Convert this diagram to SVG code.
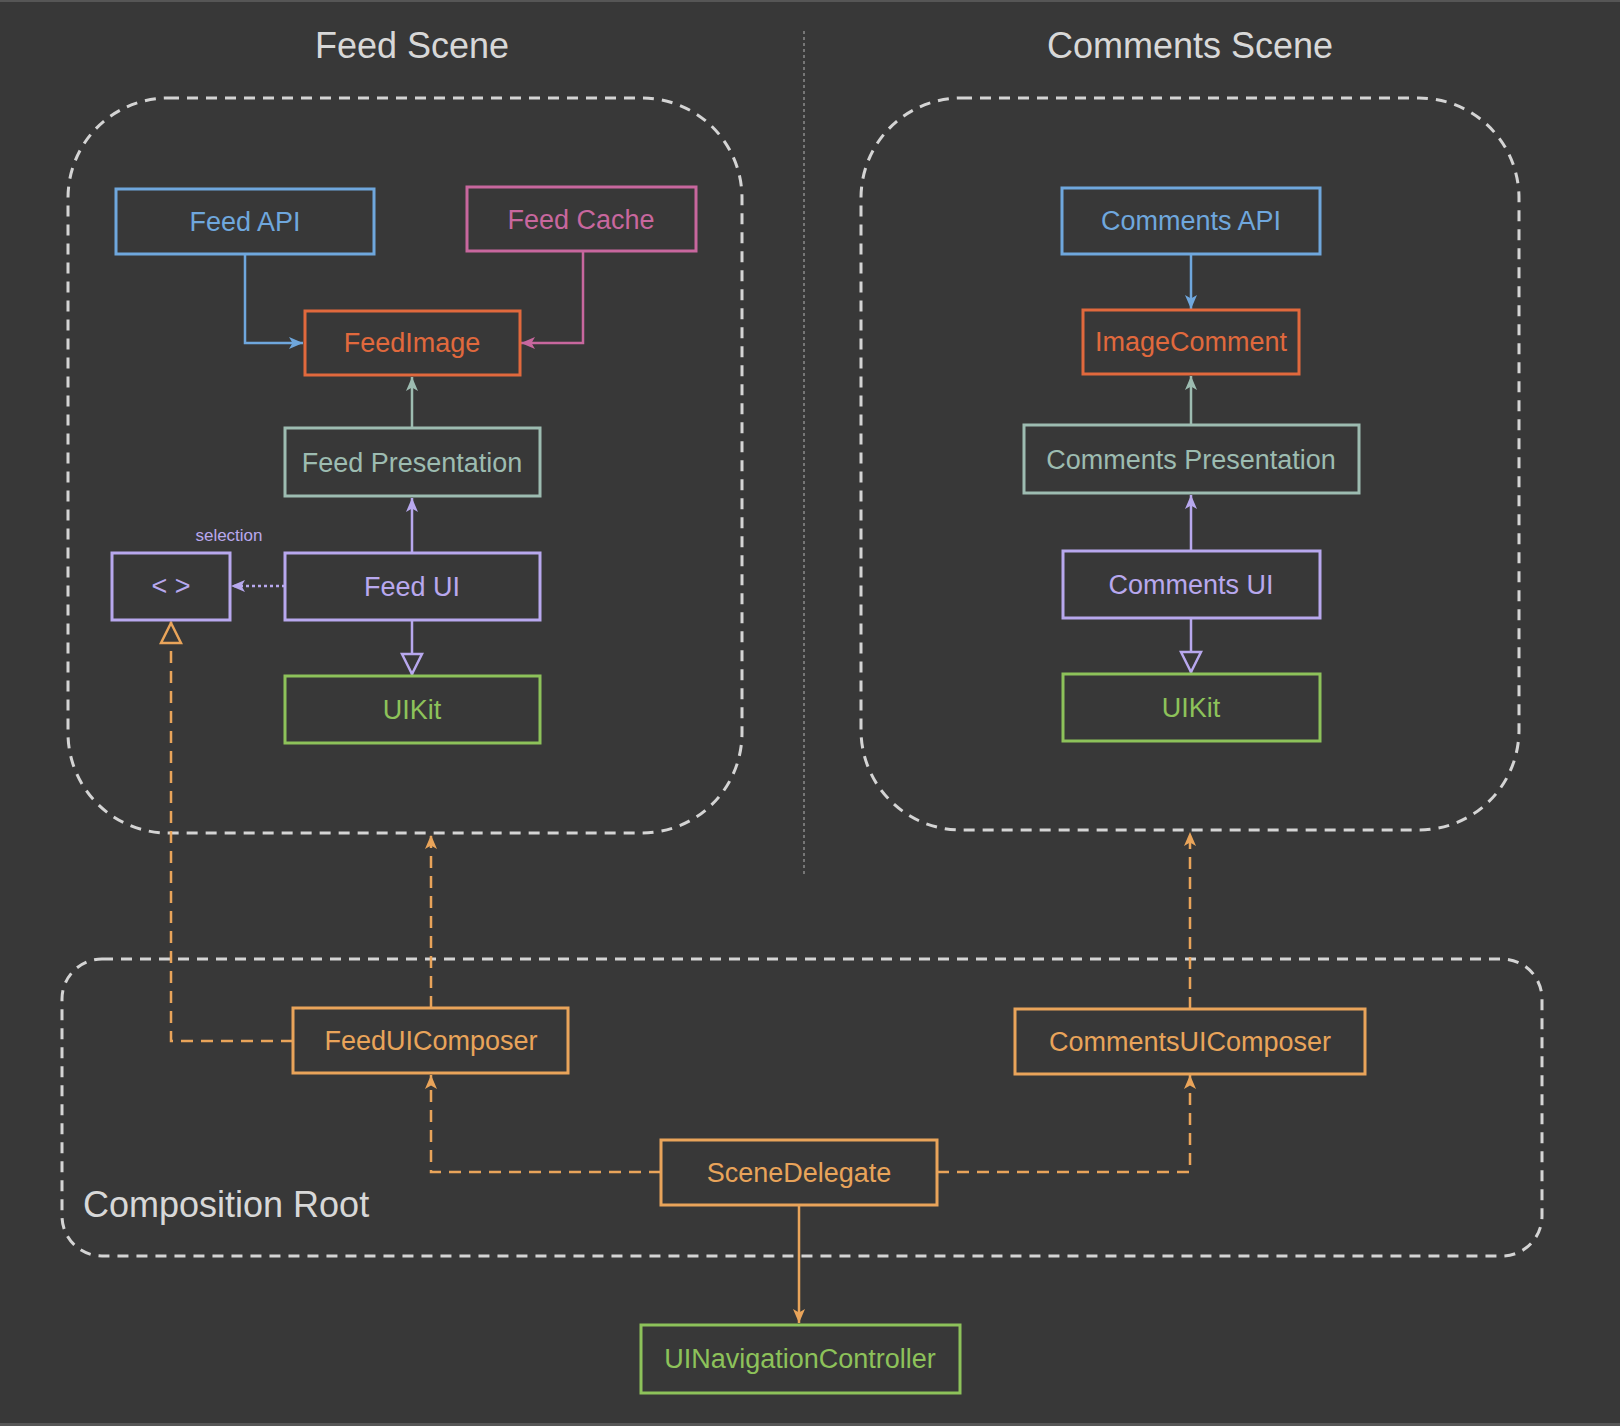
<svg xmlns="http://www.w3.org/2000/svg" width="1620" height="1426" viewBox="0 0 1620 1426">
<style>
text{font-family:"Liberation Sans",Arial,sans-serif;text-anchor:middle}
.title{font-size:36px;fill:#d8d8d8}
.lbl{font-size:27px}
.box{fill:none;stroke-width:3}
.group{fill:none;stroke:#d4d4d4;stroke-width:3;stroke-dasharray:11 8}
.blue{stroke:#6fa7dd}.tblue{fill:#6fa7dd}
.pink{stroke:#c8679e}.tpink{fill:#c8679e}
.red{stroke:#e1693d}.tred{fill:#e1693d}
.sage{stroke:#9dbcb1}.tsage{fill:#9dbcb1}
.purple{stroke:#b8a8ee}.tpurple{fill:#b8a8ee}
.green{stroke:#8dc25a}.tgreen{fill:#8dc25a}
.orange{stroke:#e9a45a}.torange{fill:#e9a45a}
.c{fill:none;stroke-width:2.5}
.dash{stroke-dasharray:12 8}
</style>
<defs>
<marker id="aBlue" markerUnits="userSpaceOnUse" viewBox="0 0 14 12" refX="14" refY="6" markerWidth="14" markerHeight="12" orient="auto"><path d="M0,0 L14,6 L0,12 L3.5,6 z" fill="#6fa7dd"/></marker>
<marker id="aPink" markerUnits="userSpaceOnUse" viewBox="0 0 14 12" refX="14" refY="6" markerWidth="14" markerHeight="12" orient="auto"><path d="M0,0 L14,6 L0,12 L3.5,6 z" fill="#c8679e"/></marker>
<marker id="aSage" markerUnits="userSpaceOnUse" viewBox="0 0 14 12" refX="14" refY="6" markerWidth="14" markerHeight="12" orient="auto"><path d="M0,0 L14,6 L0,12 L3.5,6 z" fill="#9dbcb1"/></marker>
<marker id="aPurple" markerUnits="userSpaceOnUse" viewBox="0 0 14 12" refX="14" refY="6" markerWidth="14" markerHeight="12" orient="auto"><path d="M0,0 L14,6 L0,12 L3.5,6 z" fill="#b8a8ee"/></marker>
<marker id="aOrange" markerUnits="userSpaceOnUse" viewBox="0 0 14 12" refX="14" refY="6" markerWidth="14" markerHeight="12" orient="auto"><path d="M0,0 L14,6 L0,12 L3.5,6 z" fill="#e9a45a"/></marker>
<marker id="tPurple" markerUnits="userSpaceOnUse" viewBox="-2 -2 24 24" refX="21" refY="10" markerWidth="24" markerHeight="24" orient="auto"><path d="M0,0 L20,10 L0,20 z" fill="#383838" stroke="#b8a8ee" stroke-width="2.5"/></marker>
<marker id="tOrange" markerUnits="userSpaceOnUse" viewBox="-2 -2 24 24" refX="21" refY="10" markerWidth="24" markerHeight="24" orient="auto"><path d="M0,0 L20,10 L0,20 z" fill="#383838" stroke="#e9a45a" stroke-width="2.5"/></marker>
</defs>
<rect x="0" y="0" width="1620" height="1426" fill="#383838"/>
<rect x="0" y="0" width="1620" height="2" fill="#565656"/>
<rect x="0" y="1423" width="1620" height="3" fill="#565656"/>

<g id="titles">
<text class="title" x="412" y="58">Feed Scene</text>
<text class="title" x="1190" y="58">Comments Scene</text>
</g>
<line id="divider" x1="804" y1="31" x2="804" y2="876" stroke="#8a8a8a" stroke-width="1.5" stroke-dasharray="3 3"/>

<g id="feed-scene"><rect class="group" x="68" y="98" width="674" height="735" rx="100"/></g>
<g id="comments-scene"><rect class="group" x="861" y="98" width="658" height="732" rx="100"/></g>
<g id="composition-root"><rect class="group" x="62" y="959" width="1480" height="297" rx="40"/>
<text x="83" y="1217" style="font-size:36px;fill:#d8d8d8;text-anchor:start">Composition Root</text></g>

<g id="connectors">
<path class="c blue" d="M245,254 V343 H303" marker-end="url(#aBlue)"/>
<path class="c pink" d="M583,251 V343 H521" marker-end="url(#aPink)"/>
<path class="c sage" d="M412,428 V377" marker-end="url(#aSage)"/>
<path class="c purple" d="M412,553 V498" marker-end="url(#aPurple)"/>
<path class="c purple" d="M412,620 V675" marker-end="url(#tPurple)"/>
<path class="c purple" d="M285,586 H231" stroke-dasharray="3 3" marker-end="url(#aPurple)"/>
<path class="c blue" d="M1191,254 V309" marker-end="url(#aBlue)"/>
<path class="c sage" d="M1191,425 V376" marker-end="url(#aSage)"/>
<path class="c purple" d="M1191,551 V495" marker-end="url(#aPurple)"/>
<path class="c purple" d="M1191,618 V673" marker-end="url(#tPurple)"/>
<path class="c orange dash" d="M293,1041 H171 V622" marker-end="url(#tOrange)"/>
<path class="c orange dash" d="M431,1008 V835" marker-end="url(#aOrange)"/>
<path class="c orange dash" d="M1190,1009 V832" marker-end="url(#aOrange)"/>
<path class="c orange dash" d="M661,1172 H431 V1075" marker-end="url(#aOrange)"/>
<path class="c orange dash" d="M937,1172 H1190 V1075" marker-end="url(#aOrange)"/>
<path class="c orange" d="M799,1205 V1323" marker-end="url(#aOrange)"/>
</g>

<g id="feed-api"><rect class="box blue" x="116" y="189" width="258" height="65"/><text class="lbl tblue" x="245" y="231">Feed API</text></g>
<g id="feed-cache"><rect class="box pink" x="467" y="187" width="229" height="64"/><text class="lbl tpink" x="581" y="229">Feed Cache</text></g>
<g id="feed-image"><rect class="box red" x="305" y="311" width="215" height="64"/><text class="lbl tred" x="412" y="352">FeedImage</text></g>
<g id="feed-presentation"><rect class="box sage" x="285" y="428" width="255" height="68"/><text class="lbl tsage" x="412" y="472">Feed Presentation</text></g>
<g id="selection-node"><rect class="box purple" x="112" y="553" width="118" height="67"/><text class="lbl tpurple" x="171" y="595">&lt; &gt;</text>
<text class="tpurple" x="229" y="541" style="font-size:17px">selection</text></g>
<g id="feed-ui"><rect class="box purple" x="285" y="553" width="255" height="67"/><text class="lbl tpurple" x="412" y="596">Feed UI</text></g>
<g id="feed-uikit"><rect class="box green" x="285" y="676" width="255" height="67"/><text class="lbl tgreen" x="412" y="719">UIKit</text></g>

<g id="comments-api"><rect class="box blue" x="1062" y="188" width="258" height="66"/><text class="lbl tblue" x="1191" y="230">Comments API</text></g>
<g id="image-comment"><rect class="box red" x="1083" y="310" width="216" height="64"/><text class="lbl tred" x="1191" y="351">ImageComment</text></g>
<g id="comments-presentation"><rect class="box sage" x="1024" y="425" width="335" height="68"/><text class="lbl tsage" x="1191" y="469">Comments Presentation</text></g>
<g id="comments-ui"><rect class="box purple" x="1063" y="551" width="257" height="67"/><text class="lbl tpurple" x="1191" y="594">Comments UI</text></g>
<g id="comments-uikit"><rect class="box green" x="1063" y="674" width="257" height="67"/><text class="lbl tgreen" x="1191" y="717">UIKit</text></g>

<g id="feed-ui-composer"><rect class="box orange" x="293" y="1008" width="275" height="65"/><text class="lbl torange" x="431" y="1050">FeedUIComposer</text></g>
<g id="comments-ui-composer"><rect class="box orange" x="1015" y="1009" width="350" height="65"/><text class="lbl torange" x="1190" y="1051">CommentsUIComposer</text></g>
<g id="scene-delegate"><rect class="box orange" x="661" y="1140" width="276" height="65"/><text class="lbl torange" x="799" y="1182">SceneDelegate</text></g>
<g id="navigation-controller"><rect class="box green" x="641" y="1325" width="319" height="68"/><text class="lbl tgreen" x="800" y="1368">UINavigationController</text></g>
</svg>
